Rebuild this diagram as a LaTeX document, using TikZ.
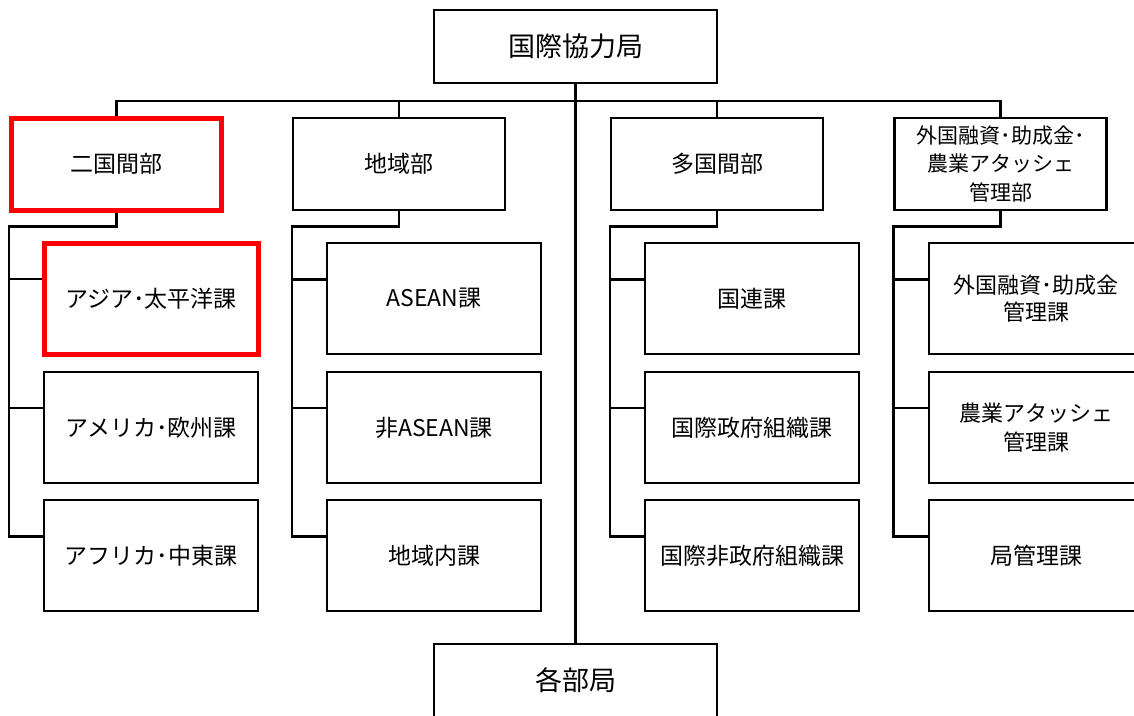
\documentclass[tikz,border=0pt]{standalone}
\usepackage{fontspec}
\setmainfont{Noto Sans CJK JP}
\usetikzlibrary{calc}
\begin{document}
\begin{tikzpicture}[x=1pt,y=-1pt,
  box/.style={draw=black, line width=2.4pt, fill=white, align=center, inner sep=0pt,
    font=\fontsize{23}{28}\selectfont},
  bigbox/.style={box, minimum width=283pt, minimum height=73pt, font=\fontsize{27}{32}\selectfont},
  dept/.style={box, minimum width=212pt, minimum height=92pt},
  sub/.style={box, minimum width=214pt, minimum height=111pt},
  hl/.style={draw=red, line width=5pt},
  conn/.style={draw=black, line width=2.4pt, line join=miter}]
\useasboundingbox (0,0) rectangle (1134,715);
\clip (0,0) rectangle (1134,715);
\fill[white] (0,0) rectangle (1134,715);

% coordinates of buses
\coordinate (bus) at (0,101);
\coordinate (sbus) at (0,226.5);

% nodes
\node[bigbox] (top) at (575.5,46.5) {国際協力局};
\node[bigbox] (bot) at (575.5,680.5) {各部局};

\node[dept, hl, minimum width=210pt] (d1) at (116.5,164) {二国間部};
\node[dept] (d2) at (399,164) {地域部};
\node[dept] (d3) at (717,164) {多国間部};
\node[dept, font=\fontsize{21}{28.5}\selectfont] (d4) at (1000.5,164) {外国融資･助成金･\\農業アタッシェ\\管理部};

\node[sub, hl] (a1) at (151,298.5) {アジア･太平洋課};
\node[sub] (a2) at (151,427.5) {アメリカ･欧州課};
\node[sub] (a3) at (151,555.5) {アフリカ･中東課};

\node[sub] (b1) at (434,298.5) {ASEAN課};
\node[sub] (b2) at (434,427.5) {非ASEAN課};
\node[sub] (b3) at (434,555.5) {地域内課};

\node[sub] (c1) at (752,298.5) {国連課};
\node[sub] (c2) at (752,427.5) {国際政府組織課};
\node[sub] (c3) at (752,555.5) {国際非政府組織課};

\node[sub, font=\fontsize{22}{27}\selectfont] (e1) at (1036,298.5) {外国融資･助成金\\管理課};
\node[sub, font=\fontsize{22}{29}\selectfont] (e2) at (1036,427.5) {農業アタッシェ\\管理課};
\node[sub] (e3) at (1036,555.5) {局管理課};

% main connectors
\draw[conn] (top.south) -- (bot.north);
\draw[conn] (d1.north) -- (d1.north |- bus) -- (d4.north |- bus) -- (d4.north);
\draw[conn] (d2.north) -- (d2.north |- bus);
\draw[conn] (d3.north) -- (d3.north |- bus);

% sub connectors
\foreach \d/\s in {d1/a, d2/b, d3/c, d4/e} {
  \coordinate (\s1p) at ($(\s1.north west)!0.333!(\s1.south west)$);
  \coordinate (\s2p) at ($(\s2.north west)!0.33!(\s2.south west)$);
  \coordinate (\s3p) at ($(\s3.north west)!0.333!(\s3.south west)$);
  \draw[conn] (\d.south) -- (\d.south |- sbus) -- (\d.south west |- sbus) -- (\d.south west |- \s3p) -- (\s3p);
  \draw[conn] (\d.south west |- \s1p) -- (\s1p);
  \draw[conn] (\d.south west |- \s2p) -- (\s2p);
}
% redraw highlighted boxes on top of connectors
\node[dept, hl, minimum width=210pt] at (d1) {二国間部};
\node[sub, hl] at (a1) {アジア･太平洋課};
\end{tikzpicture}
\end{document}
